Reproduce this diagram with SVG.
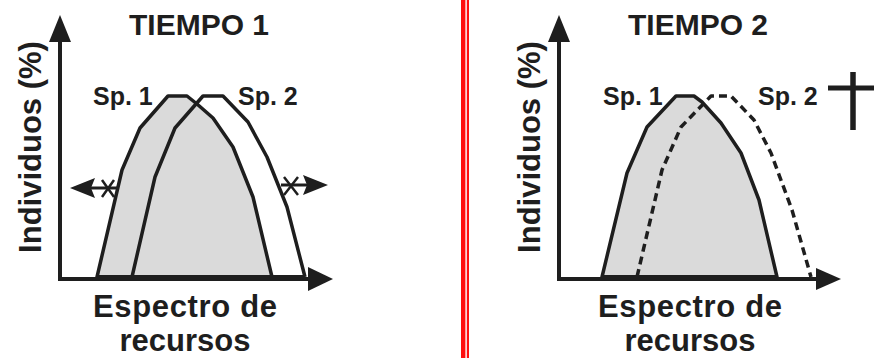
<svg xmlns="http://www.w3.org/2000/svg" width="874" height="358" viewBox="0 0 874 358">
<style>
text{font-family:"Liberation Sans",Arial,sans-serif;font-weight:bold;fill:#1e1e1e}
.title{font-size:30px;text-anchor:middle}
.ax{font-size:31px;text-anchor:middle}
.sp{font-size:25px}
.curve{stroke:#1e1e1e;stroke-width:3.5;stroke-linejoin:round}
.fill{fill:#dadada}
.dash{fill:none;stroke-dasharray:8 5;stroke-width:3.5}
.axis{stroke:#1e1e1e;stroke-width:4;fill:none}
.base{stroke:#1e1e1e;stroke-width:6}
.head{fill:#1e1e1e}
.arr{stroke:#1e1e1e;stroke-width:3;fill:none}
.x{stroke:#1e1e1e;stroke-width:2.5;fill:none}
</style>
<rect width="874" height="358" fill="#ffffff"/>
<g id="divider">
<rect x="461" y="0" width="8" height="358" fill="#ff1010"/>
<rect x="465.4" y="0" width="1.4" height="358" fill="#ffffff"/>
</g>
<g id="panel1-curves">
<g id="sp1-curve-t1"><path class="curve fill" d="M97,277 L122,170 L140,128 L168,96 L187,96 L197,104 L213,118 L233,147 L253,197 L272,277 Z"/></g>
<g id="sp2-curve-t1"><path class="curve" fill="none" d="M132,277 L155,177 L175,128 L203,96 L223,96 L248,122 L267,157 L287,207 L305,277"/></g>
</g>
<g id="panel2-curves">
<g id="sp1-curve-t2"><path class="curve fill" d="M602,277 L627,173 L647,127 L676,96 L694,96 L702,102 L721,123 L741,153 L759,200 L777,277 Z"/></g>
<g id="sp2-curve-t2"><path class="curve dash" d="M637,277 L662,170 L681,127 L711,96 L731,96 L754,120 L771,153 L792,210 L811,277"/></g>
</g>
<g id="connectors">
<line class="axis" x1="60" y1="281" x2="60" y2="38"/>
<polygon class="head" points="60,15 49,42 71,42"/>
<line class="axis" x1="58" y1="279" x2="312" y2="279"/>
<polygon class="head" points="333,279 308,267 308,291"/>
<line class="base" x1="97" y1="278" x2="305" y2="278"/>
<line class="arr" x1="90" y1="188" x2="119" y2="188"/>
<polygon class="head" points="70,188 95,178 91,188 95,198"/>
<path class="x" d="M102,180 L114,197 M114,180 L102,197"/>
<line class="arr" x1="281" y1="185" x2="308" y2="185"/>
<polygon class="head" points="328,185 303,175 307,185 303,195"/>
<path class="x" d="M284,177 L298,195 M298,177 L284,195"/>
<line class="axis" x1="559" y1="281" x2="559" y2="38"/>
<polygon class="head" points="559,15 548,42 570,42"/>
<line class="axis" x1="557" y1="279" x2="820" y2="279"/>
<polygon class="head" points="841,279 816,268 816,290"/>
<line class="base" x1="602" y1="278" x2="777" y2="278"/>
</g>
<g id="title1"><text class="title" x="199" y="35">TIEMPO 1</text></g>
<g id="title2"><text class="title" x="698" y="35">TIEMPO 2</text></g>
<g id="ylabel1"><text class="ax" transform="translate(41,147) rotate(-90)">Individuos (%)</text></g>
<g id="ylabel2"><text class="ax" transform="translate(540,147) rotate(-90)">Individuos (%)</text></g>
<g id="xlabel1"><text class="ax" x="185" y="317" textLength="184">Espectro de</text><text class="ax" x="185" y="351">recursos</text></g>
<g id="xlabel2"><text class="ax" x="690" y="317" textLength="184">Espectro de</text><text class="ax" x="690" y="351">recursos</text></g>
<g id="sp1-label-t1"><text class="sp" x="93" y="105">Sp. 1</text></g>
<g id="sp2-label-t1"><text class="sp" x="238" y="105">Sp. 2</text></g>
<g id="sp1-label-t2"><text class="sp" x="603" y="105">Sp. 1</text></g>
<g id="sp2-label-t2"><text class="sp" x="758" y="105">Sp. 2</text></g>
<g id="dagger">
<line x1="853" y1="72" x2="853" y2="130" stroke="#1e1e1e" stroke-width="5.5"/>
<line x1="828" y1="88" x2="874" y2="88" stroke="#1e1e1e" stroke-width="5"/>
</g>
</svg>
